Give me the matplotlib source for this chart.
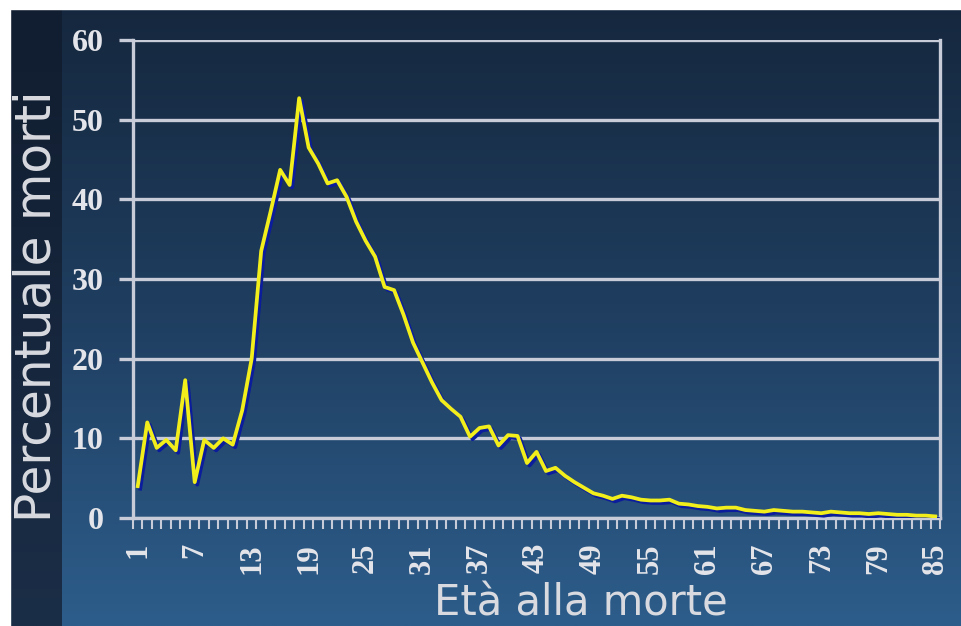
import numpy as np
import matplotlib
matplotlib.use("Agg")
import matplotlib.pyplot as plt
import matplotlib.patheffects as pe
from matplotlib.colors import LinearSegmentedColormap
from matplotlib.patches import Rectangle

# età alla morte (anni) e percentuale di morti per ciascuna età
eta = list(range(1, 86))
percentuale = [
    4.0, 12.0, 8.8, 9.8, 8.5, 17.3, 4.5, 9.8, 8.8, 10.0,
    9.2, 13.5, 20.0, 33.5, 38.5, 43.7, 41.8, 52.7, 46.5, 44.5,
    42.0, 42.4, 40.3, 37.2, 34.8, 32.8, 29.0, 28.6, 25.5, 22.0,
    19.5, 17.0, 14.8, 13.7, 12.7, 10.2, 11.3, 11.5, 9.1, 10.4,
    10.3, 6.9, 8.3, 5.9, 6.3, 5.3, 4.5, 3.8, 3.1, 2.8,
    2.4, 2.8, 2.6, 2.3, 2.2, 2.2, 2.3, 1.8, 1.7, 1.5,
    1.4, 1.2, 1.3, 1.3, 1.0, 0.9, 0.8, 1.0, 0.9, 0.8,
    0.8, 0.7, 0.6, 0.8, 0.7, 0.6, 0.6, 0.5, 0.6, 0.5,
    0.4, 0.4, 0.3, 0.3, 0.2,
]
etichette_x = list(range(1, 86, 6))
etichette_y = [0, 10, 20, 30, 40, 50, 60]

W, H = 961, 626
fig = plt.figure(figsize=(W / 100, H / 100), dpi=100)

# sfondo a gradiente blu (pixel coords)
bg = fig.add_axes([0, 0, 1, 1], zorder=0)
bg.set_xlim(0, W)
bg.set_ylim(H, 0)
bg.axis("off")
grad = np.linspace(0, 1, 256).reshape(-1, 1)
blu = LinearSegmentedColormap.from_list("blu", ["#15273d", "#1f3e60", "#2d5d8b"])
bg.imshow(grad, cmap=blu, aspect="auto", extent=[0, W, H, 0], zorder=0)
striscia = LinearSegmentedColormap.from_list("striscia", ["#111d30", "#1b2e47"])
bg.imshow(grad, cmap=striscia, aspect="auto", extent=[10, 62, H, 9], zorder=1)
bg.add_patch(Rectangle((0, 0), W, 9, color="white", zorder=2))
bg.add_patch(Rectangle((0, 0), 10, H, color="white", zorder=2))

chiaro = "#c8ccd8"
ax = fig.add_axes([133 / W, 1 - 518 / H, (940 - 133) / W, (518 - 40) / H], zorder=1)
ax.patch.set_alpha(0)

ax.plot(eta, percentuale, color="#f2ee1c", lw=2.7, zorder=3,
        path_effects=[pe.SimpleLineShadow(offset=(1.8, -1.8), shadow_color="#0b1c9c", alpha=1.0),
                      pe.Normal()])

ax.set_xlim(0.5, 85.5)
ax.set_ylim(0, 60)

ax.set_yticks(etichette_y)
ax.set_yticklabels([str(v) for v in etichette_y])
ax.yaxis.grid(True, color=chiaro, lw=2.4)
ax.set_axisbelow(True)

ax.set_xticks(etichette_x)
ax.set_xticklabels([str(v) for v in etichette_x], rotation=90)
ax.set_xticks(np.arange(0.5, 86, 1), minor=True)

ax.tick_params(axis="y", length=10, width=2.4, color=chiaro, pad=11,
               labelsize=23, labelcolor="#e4e5ea")
ax.tick_params(axis="x", which="major", length=0, pad=18,
               labelsize=22, labelcolor="#e4e5ea")
ax.tick_params(axis="x", which="minor", length=8, width=1.5, color=chiaro, direction="out")
for lab in ax.get_xticklabels() + ax.get_yticklabels():
    lab.set_fontfamily("Liberation Serif")
    lab.set_fontweight("bold")

for side in ["left", "bottom", "right"]:
    ax.spines[side].set_color(chiaro)
    ax.spines[side].set_linewidth(2.4)
ax.spines["top"].set_visible(False)

fig.text(37 / W, 1 - 306 / H, "Percentuale morti", rotation=90, ha="center", va="center",
         fontsize=35, color="#d8dae0", family="DejaVu Sans")
fig.text(581 / W, 1 - 603 / H, "Età alla morte", ha="center", va="center",
         fontsize=30, color="#d8dae0", family="DejaVu Sans")

fig.savefig("out.png", dpi=100)
